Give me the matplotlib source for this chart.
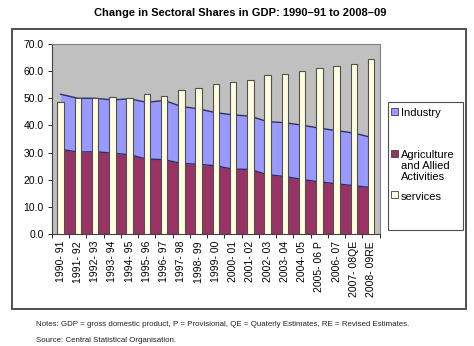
import numpy as np
import matplotlib
matplotlib.use("Agg")
import matplotlib.pyplot as plt
from matplotlib.patches import Rectangle

plt.rcParams['font.family'] = ['Liberation Sans', 'DejaVu Sans']

years = ["1990- 91", "1991- 92", "1992- 93", "1993- 94", "1994- 95", "1995- 96",
         "1996- 97", "1997- 98", "1998- 99", "1999- 00", "2000- 01", "2001- 02",
         "2002- 03", "2003- 04", "2004- 05", "2005- 06 P", "2006- 07",
         "2007- 08QE", "2008- 09RE"]
agriculture = [31.2, 30.2, 30.3, 29.8, 29.2, 27.6, 27.4, 26.0, 25.7, 25.1,
               23.9, 23.8, 21.8, 21.2, 20.1, 19.2, 18.5, 17.8, 17.1]
industry = [20.3, 19.8, 19.7, 19.6, 20.6, 20.9, 21.8, 21.0, 20.4, 19.6,
            20.0, 19.6, 19.6, 19.8, 20.0, 19.8, 19.6, 19.4, 18.5]
services = [48.5, 50.0, 50.0, 50.6, 50.2, 51.5, 50.8, 53.0, 53.9, 55.3,
            56.1, 56.6, 58.6, 59.0, 59.9, 61.0, 61.9, 62.8, 64.4]
yticks = [0, 10, 20, 30, 40, 50, 60, 70]

c_agri = '#993366'
c_ind = '#9999ff'
c_serv = '#ffffe0'
c_edge = '#2e2e66'

W, H = 474, 346
fig = plt.figure(figsize=(W / 100, H / 100), dpi=100)

def fx(px):
    return px / W

def fy(py):
    return 1 - py / H

ax = fig.add_axes([fx(52), fy(234), fx(380) - fx(52), fy(44) - fy(234)])
ax.set_facecolor('#c0c0c0')

x = np.arange(len(years))
agri = np.array(agriculture)
top = agri + np.array(industry)

ax.fill_between(x, 0, agri, color=c_agri, lw=0, zorder=1)
ax.fill_between(x, agri, top, color=c_ind, lw=0, zorder=1)
ax.plot(x, agri, color=c_edge, lw=1.0, zorder=2)
ax.plot(x, top, color=c_edge, lw=1.0, zorder=2)
ax.bar(x, services, width=0.38, color=c_serv, edgecolor='#505050',
       linewidth=0.8, zorder=3)

ax.set_xlim(-0.37, 18.52)
ax.set_ylim(0, 70)
ax.set_yticks(yticks)
ax.set_yticklabels(['%.1f' % v for v in yticks], fontsize=7.5)
ax.set_xticks(x)
ax.set_xticklabels(years, rotation=90, fontsize=7.5)
ax.set_xticks(np.arange(len(years) + 1) - 0.5, minor=True)
ax.tick_params(axis='x', which='major', length=0, pad=5)
ax.tick_params(axis='x', which='minor', length=3, width=0.6, direction='out')
ax.tick_params(axis='y', length=3, width=0.6, pad=3)
for s in ['top', 'right']:
    ax.spines[s].set_color('#808080')
    ax.spines[s].set_linewidth(0.8)
for s in ['left', 'bottom']:
    ax.spines[s].set_color('#404040')
    ax.spines[s].set_linewidth(0.8)

# outer frame
fig.patches.append(Rectangle((fx(12), fy(309)), fx(466) - fx(12), fy(29) - fy(309),
                             transform=fig.transFigure, fill=False,
                             edgecolor='#505050', lw=1.4))

# legend
fig.patches.append(Rectangle((fx(388), fy(230)), fx(463) - fx(388), fy(102) - fy(230),
                             transform=fig.transFigure, fill=False,
                             edgecolor='#505050', lw=0.8))
leg_items = [(c_ind, "Industry", 111, 114),
             (c_agri, "Agriculture\nand Allied\nActivities", 153, 156),
             (c_serv, "services", 195, 198)]
for col, lab, my, ty in leg_items:
    fig.patches.append(Rectangle((fx(391), fy(my + 3.5)), fx(7), fy(0) - fy(7),
                                 transform=fig.transFigure, facecolor=col,
                                 edgecolor='#404040', lw=0.6))
    fig.text(fx(401), fy(ty - 6), lab, fontsize=8, va='top', ha='left',
             linespacing=1.1)

fig.text(fx(240), fy(13), "Change in Sectoral Shares in GDP: 1990\u201391 to 2008\u201309",
         ha='center', va='center', fontsize=8, fontweight='bold')
fig.text(fx(36), fy(324), "Notes: GDP = gross domestic product, P = Provisional, "
         "QE = Quaterly Estimates, RE = Revised Estimates.",
         ha='left', va='center', fontsize=5.7, color='#222222')
fig.text(fx(36), fy(340), "Source: Central Statistical Organisation.",
         ha='left', va='center', fontsize=5.7, color='#222222')

fig.savefig('out.png', dpi=100)
